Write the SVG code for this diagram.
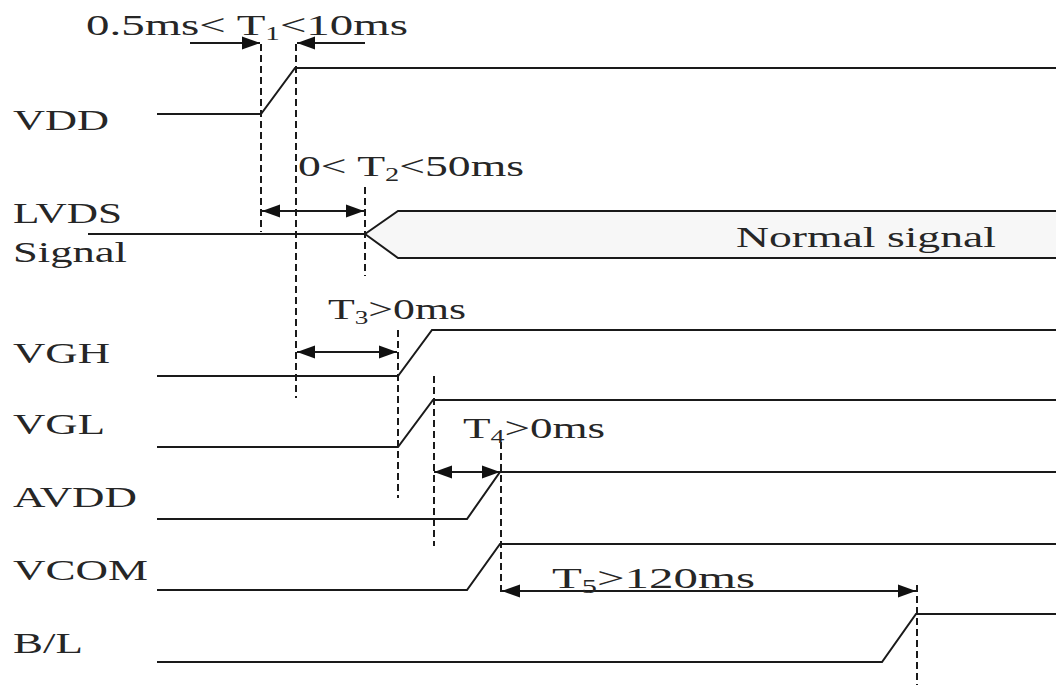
<svg xmlns="http://www.w3.org/2000/svg" width="1056" height="700" viewBox="0 0 1056 700">
<defs>
<marker id="ah" markerUnits="userSpaceOnUse" markerWidth="20" markerHeight="14" refX="18" refY="7" orient="auto-start-reverse">
<path d="M0,0.5 L18,7 L0,13.5 z" fill="#111"/>
</marker>
<style>
.sig{fill:none;stroke:#1a1a1a;stroke-width:2}
.dash{fill:none;stroke:#1a1a1a;stroke-width:2;stroke-dasharray:7,4}
.arr{fill:none;stroke:#1a1a1a;stroke-width:2}
.lbl{font-family:"Liberation Serif","Times New Roman",serif;font-size:29px;fill:#262626}
.sub{font-size:18px}
</style>
</defs>
<rect width="1056" height="700" fill="#ffffff"/>

<g id="VDD">
<text class="lbl" x="13" y="130" textLength="96" lengthAdjust="spacingAndGlyphs">VDD</text>
<polyline class="sig" points="157,114 261,114 295,68 1056,68"/>
</g>

<g id="LVDS">
<text class="lbl" x="13" y="223" textLength="109" lengthAdjust="spacingAndGlyphs">LVDS</text>
<text class="lbl" x="13" y="262" textLength="114" lengthAdjust="spacingAndGlyphs">Signal</text>
<polygon points="365,234 398,211 1056,211 1056,258 398,258" fill="#f7f7f7" stroke="none"/>
<polyline class="sig" points="88,234 365,234"/>
<polyline class="sig" points="365,234 398,211 1056,211"/>
<polyline class="sig" points="365,234 398,258 1056,258"/>
<text class="lbl" x="736" y="247" textLength="260" lengthAdjust="spacingAndGlyphs">Normal signal</text>
</g>

<g id="VGH">
<text class="lbl" x="13" y="363" textLength="97" lengthAdjust="spacingAndGlyphs">VGH</text>
<polyline class="sig" points="157,376 398,376 432,330 1056,330"/>
</g>

<g id="VGL">
<text class="lbl" x="13" y="434" textLength="92" lengthAdjust="spacingAndGlyphs">VGL</text>
<polyline class="sig" points="157,447 398,447 433,400 1056,400"/>
</g>

<g id="AVDD">
<text class="lbl" x="13" y="507" textLength="124" lengthAdjust="spacingAndGlyphs">AVDD</text>
<polyline class="sig" points="157,519 467,519 500,472 1056,472"/>
</g>

<g id="VCOM">
<text class="lbl" x="13" y="580" textLength="135" lengthAdjust="spacingAndGlyphs">VCOM</text>
<polyline class="sig" points="157,590 467,590 500,544 1056,544"/>
</g>

<g id="BL">
<text class="lbl" x="13" y="653" textLength="70" lengthAdjust="spacingAndGlyphs">B/L</text>
<polyline class="sig" points="157,662 882,662 916,614 1056,614"/>
</g>

<g id="guides">
<line class="dash" x1="261" y1="44" x2="261" y2="232"/>
<line class="dash" x1="296" y1="44" x2="296" y2="398"/>
<line class="dash" x1="365" y1="187" x2="365" y2="276"/>
<line class="dash" x1="398" y1="330" x2="398" y2="498"/>
<line class="dash" x1="434" y1="376" x2="434" y2="546"/>
<line class="dash" x1="501" y1="442" x2="501" y2="592"/>
<line class="dash" x1="917" y1="585" x2="917" y2="685"/>
</g>

<g id="connectors">
<line class="arr" x1="190" y1="43" x2="260" y2="43" marker-end="url(#ah)"/>
<line class="arr" x1="365" y1="43" x2="297" y2="43" marker-end="url(#ah)"/>
<line class="arr" x1="262" y1="211" x2="364" y2="211" marker-start="url(#ah)" marker-end="url(#ah)"/>
<line class="arr" x1="297" y1="352" x2="397" y2="352" marker-start="url(#ah)" marker-end="url(#ah)"/>
<line class="arr" x1="434" y1="472" x2="500" y2="472" marker-start="url(#ah)" marker-end="url(#ah)"/>
<line class="arr" x1="502" y1="591" x2="916" y2="591" marker-start="url(#ah)" marker-end="url(#ah)"/>
</g>

<g id="labels">
<text class="lbl" x="86" y="35" textLength="322" lengthAdjust="spacingAndGlyphs">0.5ms&lt; T<tspan class="sub" dy="5">1</tspan><tspan dy="-5">&lt;10ms</tspan></text>
<text class="lbl" x="298" y="176" textLength="226" lengthAdjust="spacingAndGlyphs">0&lt; T<tspan class="sub" dy="5">2</tspan><tspan dy="-5">&lt;50ms</tspan></text>
<text class="lbl" x="328" y="319" textLength="138" lengthAdjust="spacingAndGlyphs">T<tspan class="sub" dy="5">3</tspan><tspan dy="-5">&gt;0ms</tspan></text>
<text class="lbl" x="463" y="438" textLength="142" lengthAdjust="spacingAndGlyphs">T<tspan class="sub" dy="5">4</tspan><tspan dy="-5">&gt;0ms</tspan></text>
<text class="lbl" x="552" y="588" textLength="203" lengthAdjust="spacingAndGlyphs">T<tspan class="sub" dy="5">5</tspan><tspan dy="-5">&gt;120ms</tspan></text>
</g>
</svg>
